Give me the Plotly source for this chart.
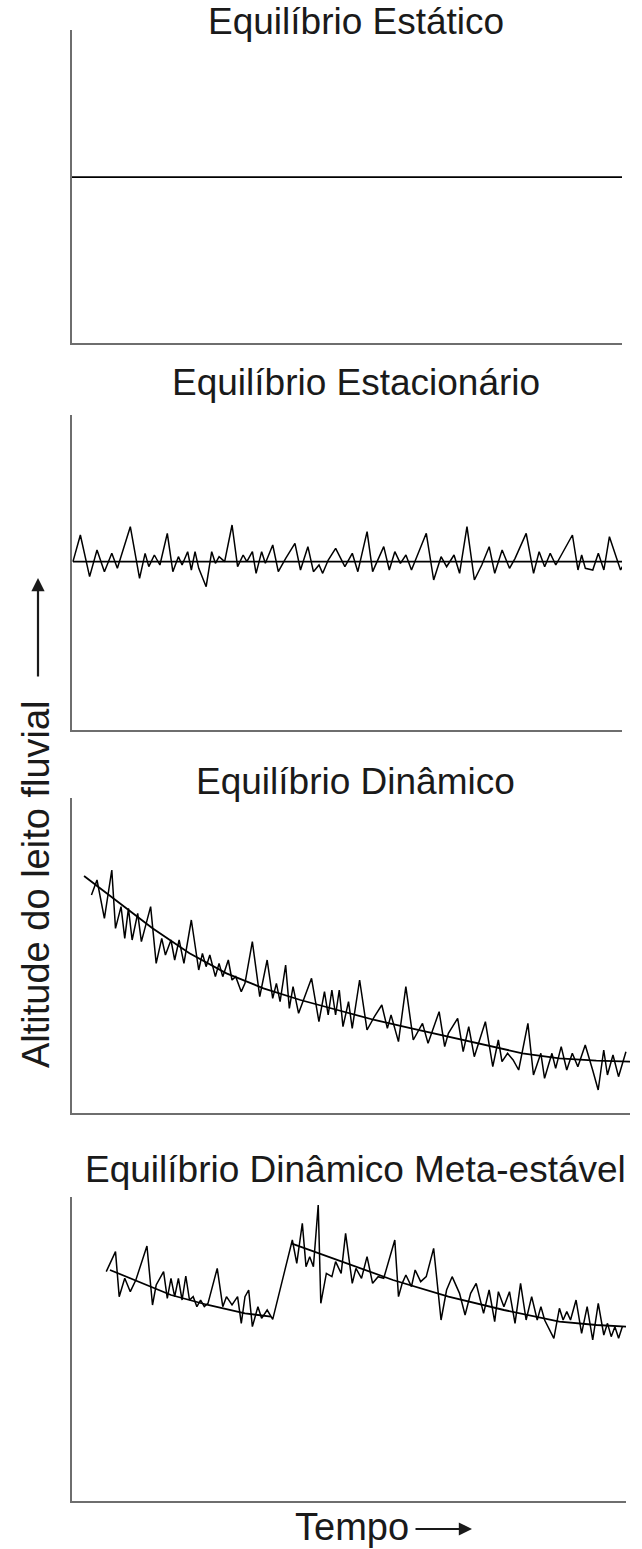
import plotly.graph_objects as go

W, H = 642, 1549

# ---------------- data (arbitrary time / altitude units) ----------------
# Panel 1 - Equilibrio Estatico
static_t = [32, 1519]
static_alt = [53, 53]

# Panel 2 - Equilibrio Estacionario
stat_mean_t = [35, 1520]
stat_mean_alt = [115, 115]
stat_t = [35, 55, 80, 100, 120, 140, 155, 190, 215, 230, 240, 255, 270, 290, 305, 320, 330, 345, 355, 365,
          375, 395, 410, 420, 430, 445, 465, 480, 495, 505, 520, 530, 545, 555, 575, 590, 610, 635, 650, 670,
          685, 700, 710, 725, 745, 770, 790, 805, 830, 845, 875, 890, 905, 920, 935, 950, 990, 1010, 1030, 1045,
          1065, 1080, 1100, 1120, 1140, 1160, 1175, 1195, 1215, 1230, 1260, 1280, 1295, 1310, 1325, 1340, 1385,
          1400, 1410, 1420, 1440, 1455, 1470, 1485, 1515, 1520]
stat_alt = [115, 195, 70, 150, 85, 140, 95, 220, 65, 140, 100, 135, 105, 200, 85, 130, 105, 145, 90, 145,
            95, 40, 145, 110, 130, 115, 225, 100, 135, 115, 145, 80, 145, 110, 165, 85, 125, 170, 90, 160,
            85, 105, 80, 120, 155, 100, 140, 85, 205, 85, 160, 90, 145, 110, 135, 90, 200, 60, 130, 100,
            135, 80, 220, 60, 105, 160, 80, 150, 95, 125, 200, 80, 145, 100, 140, 105, 195,
            90, 135, 95, 90, 140, 90, 190, 90, 100]

# Panel 3 - Equilibrio Dinamico
dyn_trend_t = [65, 150, 250, 350, 450, 550, 650, 750, 850, 950, 1050, 1150, 1250, 1350, 1450, 1555]
dyn_trend_alt = [732, 660, 575, 500, 440, 395, 360, 330, 300, 275, 250, 225, 200, 185, 178, 175]
dyn_t = [85, 100, 120, 140, 150, 165, 175, 185, 195, 210, 220, 245, 260, 275, 285, 300, 310, 322, 335, 355,
         375, 385, 395, 405, 420, 430, 440, 455, 465, 475, 490, 500, 520, 540, 560, 575, 585, 595, 610, 620,
         630, 645, 680, 700, 715, 725, 735, 745, 755, 765, 780, 790, 810, 830, 850, 870, 885, 895, 915, 935,
         955, 980, 995, 1025, 1040, 1050, 1075, 1090, 1105, 1120, 1150, 1170, 1185, 1195, 1210, 1225, 1240,
         1265, 1280, 1300, 1310, 1330, 1340, 1355, 1370, 1385, 1400, 1420, 1440, 1455, 1470, 1480, 1495,
         1510, 1530]
dyn_alt = [675, 720, 605, 750, 575, 640, 545, 635, 540, 620, 535, 640, 470, 545, 495, 540, 480, 540, 470, 600,
           450, 500, 460, 495, 430, 470, 430, 480, 420, 430, 385, 410, 535, 370, 480, 365, 410, 355, 465, 335,
           400, 320, 425, 295, 385, 315, 390, 315, 390, 280, 355, 275, 420, 270, 310, 345, 275, 315, 235, 400,
           240, 290, 230, 325, 220, 260, 305, 205, 280, 190, 295, 160, 240, 175, 200, 180, 150,
           290, 135, 200, 125, 200, 155, 220, 150, 200, 160, 225, 150, 90, 210, 135, 195,
           130, 205]

# Panel 4 - Equilibrio Dinamico Meta-estavel
meta_trend1_t = [135, 200, 300, 400, 500, 570]
meta_trend1_alt = [270, 240, 195, 165, 140, 130]
meta_trend2_t = [625, 750, 900, 1050, 1200, 1350, 1450, 1535]
meta_trend2_alt = [350, 300, 240, 190, 150, 115, 105, 100]
meta_t = [125, 150, 160, 175, 190, 205, 235, 250, 260, 280, 290, 300, 310, 320, 330, 340, 350, 360, 370, 380,
          390, 400, 425, 440, 450, 465, 480, 490, 500, 510, 520, 535, 545, 560, 575, 628, 640, 655, 665, 675,
          685, 698, 705, 720, 735, 745, 760, 772, 790, 800, 815, 830, 845, 860, 875, 905, 915, 925, 935, 950,
          960, 975, 990, 1010, 1030, 1045, 1060, 1080, 1095, 1110, 1125, 1145, 1160, 1175, 1185, 1200, 1215,
          1230, 1245, 1260, 1275, 1290, 1300, 1310, 1335, 1350, 1360, 1370, 1380, 1395, 1410, 1425, 1440,
          1455, 1470, 1480, 1490, 1500, 1510, 1520]
meta_alt = [265, 325, 190, 245, 205, 240, 342, 165, 225, 265, 185, 245, 190, 245, 180, 252, 180, 190, 160, 180,
            160, 170, 275, 160, 190, 165, 190, 110, 190, 210, 100, 160, 125, 150, 122, 360, 290, 410, 280, 310,
            280, 465, 170, 260, 250, 295, 260, 380, 230, 275, 245, 310, 230, 250, 245, 360, 190, 230, 255, 220,
            270, 235, 250, 335, 120, 210, 250, 200, 135, 200, 230, 140, 210, 115, 205, 160, 205,
            110, 230, 120, 190, 120, 160, 120, 65, 155, 120, 145, 120, 180, 80, 160, 60,
            170, 75, 110, 70, 100, 65, 100]

titles = ["Equilíbrio Estático", "Equilíbrio Estacionário", "Equilíbrio Dinâmico",
          "Equilíbrio Dinâmico Meta-estável"]
y_label = "Altitude do leito fluvial"
x_label = "Tempo"

# ---------------- layout helpers ----------------
def px(x):
    return x / W

def py(y):
    return 1 - y / H

FONT = "Liberation Sans, Arial, Helvetica, sans-serif"
INK = "#1a1a1a"
AXC = "#6e6e6e"

# panel pixel boxes: (left, right, top, bottom), x range, y range
panels = [
    dict(box=(72, 622, 30, 343), xr=[32.4, 1519], yr=[0, 100]),
    dict(box=(72, 622, 415, 730), xr=[32.4, 1519], yr=[-390, 555]),
    dict(box=(72, 630, 798, 1113), xr=[32.4, 1541], yr=[21, 966]),
    dict(box=(72, 626, 1197, 1501), xr=[32.4, 1530], yr=[-423, 489]),
]

fig = go.Figure()

line_noise = dict(color="black", width=1.5)
line_trend = dict(color="black", width=1.8)

series = [
    [(static_t, static_alt, line_trend)],
    [(stat_mean_t, stat_mean_alt, line_trend), (stat_t, stat_alt, line_noise)],
    [(dyn_t, dyn_alt, line_noise), (dyn_trend_t, dyn_trend_alt, line_trend)],
    [(meta_t, meta_alt, line_noise), (meta_trend1_t, meta_trend1_alt, line_trend),
     (meta_trend2_t, meta_trend2_alt, line_trend)],
]

layout = {}
for i, (p, ser) in enumerate(zip(panels, series), start=1):
    xa = "x" if i == 1 else f"x{i}"
    ya = "y" if i == 1 else f"y{i}"
    for t, a, ln in ser:
        fig.add_trace(go.Scatter(x=t, y=a, mode="lines", line=ln, xaxis=xa, yaxis=ya,
                                 showlegend=False, hoverinfo="skip"))
    l, r, tp, bt = p["box"]
    common = dict(showline=True, linecolor=AXC, linewidth=2, showgrid=False, zeroline=False,
                  showticklabels=False, ticks="", mirror=False, fixedrange=True)
    layout["xaxis" if i == 1 else f"xaxis{i}"] = dict(domain=[px(l), px(r)], range=p["xr"],
                                                      anchor=ya, **common)
    layout["yaxis" if i == 1 else f"yaxis{i}"] = dict(domain=[py(bt), py(tp)], range=p["yr"],
                                                      anchor=xa, **common)

title_y = [21, 383, 781, 1169]
annotations = []
for t, yy in zip(titles, title_y):
    annotations.append(dict(text=t, x=px(356), y=py(yy), xref="paper", yref="paper",
                            xanchor="center", yanchor="middle", showarrow=False,
                            font=dict(family=FONT, size=37, color=INK)))

# y axis label + arrow
annotations.append(dict(text=y_label, x=px(36), y=py(884), xref="paper", yref="paper",
                        xanchor="center", yanchor="middle", textangle=-90, showarrow=False,
                        font=dict(family=FONT, size=38, color=INK)))
annotations.append(dict(text="", x=px(38), y=py(578), xref="paper", yref="paper",
                        ax=0, ay=100, showarrow=True, arrowhead=2, arrowsize=1.2,
                        arrowwidth=2.2, arrowcolor=INK))
# x axis label + arrow
annotations.append(dict(text=x_label, x=px(352), y=py(1527), xref="paper", yref="paper",
                        xanchor="center", yanchor="middle", showarrow=False,
                        font=dict(family=FONT, size=38, color=INK)))
annotations.append(dict(text="", x=px(472), y=py(1529), xref="paper", yref="paper",
                        ax=-58, ay=0, showarrow=True, arrowhead=2, arrowsize=1.2,
                        arrowwidth=2.2, arrowcolor=INK))

fig.update_layout(width=W, height=H, margin=dict(l=0, r=0, t=0, b=0),
                  paper_bgcolor="white", plot_bgcolor="white",
                  annotations=annotations, **layout)

fig.write_html("out.html", config={"displayModeBar": False},
               post_script="document.body.style.margin='0px';document.body.style.overflow='hidden';")
